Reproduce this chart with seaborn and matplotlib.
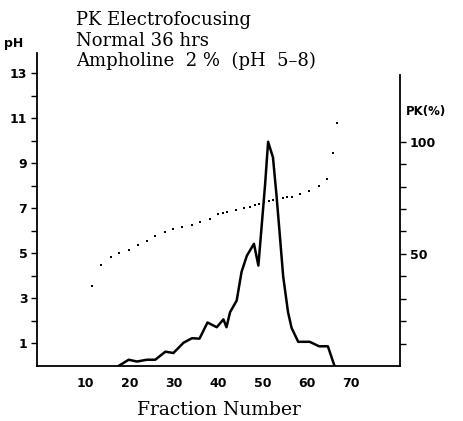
import numpy as np
import matplotlib
matplotlib.use("Agg")
import matplotlib.pyplot as plt
import seaborn as sns

# pH of each fraction (dotted series, left axis)
ph_fraction = [11.4, 13.5, 15.6, 17.6, 19.7, 21.8, 23.8, 25.7, 27.8, 29.8, 31.8,
               33.9, 35.9, 38.0, 39.9, 40.9, 42.0, 43.9, 45.8, 47.1, 48.2, 49.2,
               50.3, 51.3, 52.4, 53.3, 54.5, 55.5, 56.6, 58.5, 60.5, 62.6, 64.6,
               65.9, 66.7]
ph_value = [3.57, 4.49, 4.86, 5.04, 5.17, 5.38, 5.56, 5.78, 5.97, 6.07, 6.19,
            6.25, 6.41, 6.55, 6.73, 6.79, 6.86, 6.92, 7.01, 7.08, 7.16, 7.20,
            7.27, 7.33, 7.38, 7.41, 7.44, 7.50, 7.52, 7.64, 7.79, 8.01, 8.30,
            9.45, 10.8]

# PK activity (solid line, right axis)
pk_fraction = [17.4, 19.7, 21.6, 23.8, 25.7, 28.0, 29.8, 32.1, 34.0, 35.7, 37.5,
               39.6, 41.1, 41.8, 42.6, 44.1, 45.2, 46.4, 48.0, 49.0, 49.5, 50.5,
               51.2, 52.3, 53.1, 53.9, 54.6, 55.7, 56.5, 58.0, 60.6, 62.7, 64.7,
               66.2]
pk_value = [0, 2.8, 2.0, 2.8, 2.8, 6.4, 5.8, 10.4, 12.4, 12.2, 19.4,
            17.3, 20.8, 17.3, 24.0, 29.2, 42.0, 49.2, 54.5, 44.8, 56.7, 80.5,
            100, 93, 76, 57, 40, 24, 17, 10.8, 10.8, 8.8, 8.8,
            0]

x_ticks = [10, 20, 30, 40, 50, 60, 70]
ph_ticks = [1, 3, 5, 7, 9, 11, 13]
pk_ticks = [50, 100]

sns.set_style("white")
plt.rcParams["text.color"] = "black"

fig = plt.figure(figsize=(4.63, 4.21), dpi=100)
ax = fig.add_axes([0.080, 0.1306, 0.784, 0.7435])
ax2 = ax.twinx()

sns.scatterplot(x=ph_fraction, y=ph_value, ax=ax, marker="s", s=3,
                color="black", linewidth=0)
sns.lineplot(x=pk_fraction, y=pk_value, ax=ax2, color="black", lw=1.8)

ax.set_xlim(-1, 81)
ax.set_ylim(0, 13.9)
ax2.set_ylim(0, 139.6)

tick_font = dict(family="DejaVu Sans", weight="bold", size=9, color="black")
serif = "DejaVu Serif"

for a in (ax, ax2):
    a.spines["top"].set_visible(False)
    for s in a.spines.values():
        s.set_color("black")
        s.set_linewidth(1.3)
ax.spines["right"].set_visible(False)
ax2.spines["left"].set_visible(False)
ax2.spines["bottom"].set_visible(False)
ax2.spines["right"].set_bounds(0, 130)

ax.set_xticks(x_ticks)
ax.set_xticklabels([str(t) for t in x_ticks], fontdict=tick_font)
ax.tick_params(axis="x", length=0, pad=8)

ax.set_yticks(ph_ticks)
ax.set_yticklabels([str(t) for t in ph_ticks], fontdict=tick_font)
ax.set_yticks(np.arange(2, 14, 2), minor=True)
ax.tick_params(axis="y", which="both", left=True, length=4, width=1,
               direction="out", pad=3, colors="black")

ax2.set_yticks(pk_ticks)
ax2.set_yticklabels([str(t) for t in pk_ticks], fontdict=tick_font)
ax2.set_yticks(np.arange(10, 101, 10), minor=True)
ax2.tick_params(axis="y", which="both", right=True, length=4, width=1,
                direction="out", pad=3, colors="black")

ax.set_xlabel("Fraction Number", family=serif, size=13.5, labelpad=8,
              color="black")
ax.set_ylabel("")
ax2.set_ylabel("")

fig.text(14 / 463, 1 - 43 / 421, "pH", ha="center", va="center",
         family="DejaVu Sans", weight="bold", size=9)
fig.text(406 / 463, 1 - 112 / 421, "PK(%)", ha="left", va="center",
         family="DejaVu Sans", weight="bold", size=8.5)

title_lines = ["PK Electrofocusing", "Normal 36 hrs", "Ampholine  2 %  (pH  5–8)"]
for i, line in enumerate(title_lines):
    fig.text(76 / 463, 1 - (20 + 20.5 * i) / 421, line, ha="left", va="center",
             family=serif, size=13)

fig.savefig("out.png", dpi=100, facecolor="white")
